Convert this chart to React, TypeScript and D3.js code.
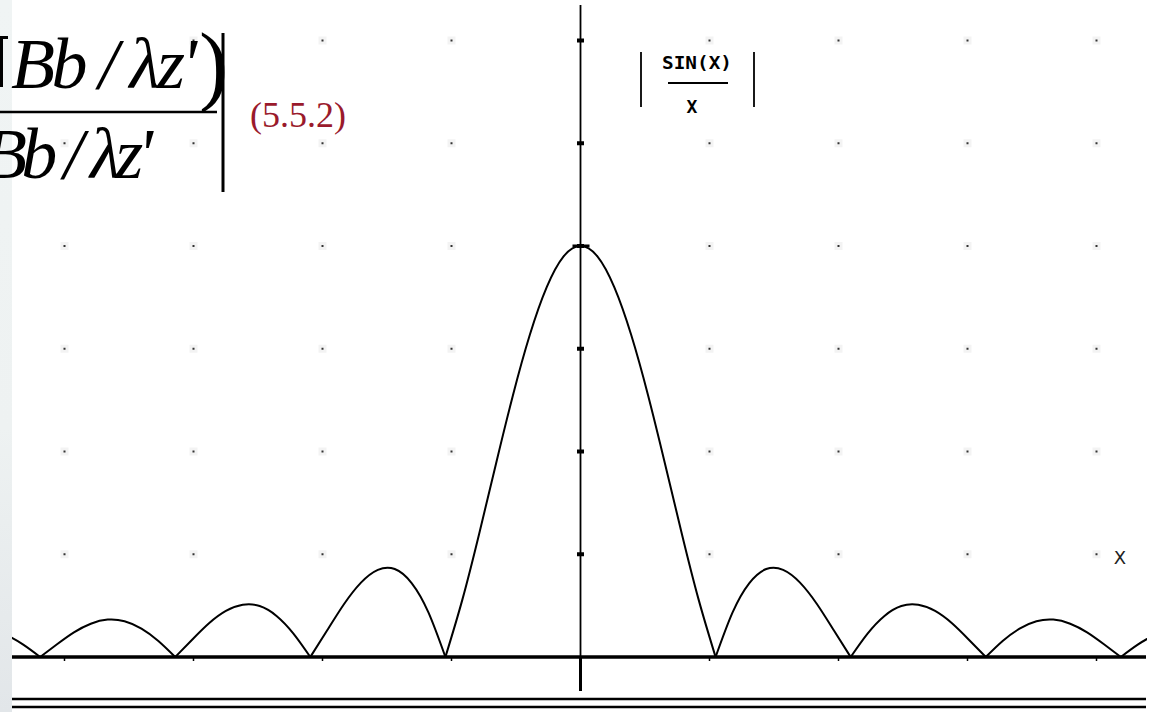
import React, { useRef, useEffect } from "react";
import * as d3 from "d3";

// samples of |sin(x)/x|, x in multiples of pi (right half, the picture is symmetric)
const X_PI = [
  0, 0.125, 0.25, 0.375, 0.5, 0.625, 0.75, 0.875, 1,
  1.125, 1.25, 1.375, 1.5, 1.625, 1.75, 1.875, 2,
  2.125, 2.25, 2.375, 2.5, 2.625, 2.75, 2.875, 3,
  3.125, 3.25, 3.375, 3.5, 3.625, 3.75, 3.875, 4,
  4.125, 4.25, 4.375,
];
const AMP = [
  1, 0.975, 0.9, 0.784, 0.637, 0.471, 0.3, 0.139, 0,
  0.108, 0.18, 0.214, 0.212, 0.181, 0.129, 0.065, 0,
  0.057, 0.1, 0.124, 0.127, 0.112, 0.082, 0.042, 0,
  0.039, 0.069, 0.087, 0.091, 0.081, 0.06, 0.031, 0,
  0.03, 0.053, 0.067,
];
// grid dots (x in radians, y in amplitude)
const GRID_X = [-12, -9, -6, -3, 3, 6, 9, 12];
const GRID_Y = [0.25, 0.5, 0.75, 1, 1.25, 1.5];
const AXIS_TICKS = [0.25, 0.5, 0.75, 1, 1.25, 1.5];

const W = 1159;
const H = 712;

const App = () => {
  const svgRef = useRef<SVGSVGElement>(null);

  useEffect(() => {
    const svg = d3.select(svgRef.current);
    svg.selectAll("*").remove();

    const x = d3.scaleLinear().domain([-13.5, 13.5]).range([0, 1161]);
    const y = d3.scaleLinear().domain([0, 1]).range([657, 246]);

    const defs = svg.append("defs");
    const grad = defs
      .append("linearGradient")
      .attr("id", "edge")
      .attr("x1", 0)
      .attr("x2", 0)
      .attr("y1", 0)
      .attr("y2", 1);
    grad.append("stop").attr("offset", "0%").attr("stop-color", "#f0f4f4");
    grad.append("stop").attr("offset", "60%").attr("stop-color", "#eef2f2");
    grad.append("stop").attr("offset", "100%").attr("stop-color", "#e2e6e9");
    defs
      .append("clipPath")
      .attr("id", "plotClip")
      .append("rect")
      .attr("x", 12)
      .attr("y", 0)
      .attr("width", 1135)
      .attr("height", H);

    svg.append("rect").attr("width", W).attr("height", H).attr("fill", "#fff");
    svg.append("rect").attr("width", 12).attr("height", H).attr("fill", "url(#edge)");

    // grid dots
    const dots = GRID_X.flatMap((gx) => GRID_Y.map((gy) => [gx, gy]));
    svg
      .append("g")
      .selectAll("rect.halo")
      .data(dots)
      .join("rect")
      .attr("x", (d) => x(d[0]) - 4)
      .attr("y", (d) => y(d[1]) - 4)
      .attr("width", 8)
      .attr("height", 8)
      .attr("fill", "#f3f3f3");
    svg
      .append("g")
      .selectAll("rect.dot")
      .data(dots)
      .join("rect")
      .attr("x", (d) => x(d[0]) - 1)
      .attr("y", (d) => y(d[1]) - 1)
      .attr("width", 2)
      .attr("height", 2)
      .attr("fill", "#333");

    // baseline and bottom double rule
    const x0 = 12;
    const x1 = 1146;
    svg.append("line").attr("x1", x0).attr("x2", x1).attr("y1", y(0)).attr("y2", y(0))
      .attr("stroke", "#000").attr("stroke-width", 3.5);
    [699, 707].forEach((yy) =>
      svg.append("line").attr("x1", x0).attr("x2", x1).attr("y1", yy).attr("y2", yy)
        .attr("stroke", "#000").attr("stroke-width", 2.5)
    );
    svg
      .append("g")
      .selectAll("line")
      .data(GRID_X)
      .join("line")
      .attr("x1", (d) => x(d))
      .attr("x2", (d) => x(d))
      .attr("y1", y(0))
      .attr("y2", y(0) + 4)
      .attr("stroke", "#000")
      .attr("stroke-width", 1.5);

    // vertical axis
    svg.append("line").attr("x1", x(0)).attr("x2", x(0)).attr("y1", 5).attr("y2", y(0))
      .attr("stroke", "#000").attr("stroke-width", 1.8);
    svg.append("line").attr("x1", x(0)).attr("x2", x(0)).attr("y1", y(0)).attr("y2", 691)
      .attr("stroke", "#000").attr("stroke-width", 3);
    svg
      .append("g")
      .selectAll("rect")
      .data(AXIS_TICKS)
      .join("rect")
      .attr("x", x(0) - 3.5)
      .attr("y", (d) => y(d) - 2)
      .attr("width", 7)
      .attr("height", 4)
      .attr("fill", "#000");

    // curve, drawn lobe by lobe so the zeros stay sharp
    const half = X_PI.map((t, i) => ({ t, v: AMP[i] }));
    const full = [
      ...half.slice(1).reverse().map((d) => ({ t: -d.t, v: d.v })),
      ...half,
    ];
    const lobes: { t: number; v: number }[][] = [];
    let cur: { t: number; v: number }[] = [];
    full.forEach((d) => {
      cur.push(d);
      if (d.v === 0) {
        lobes.push(cur);
        cur = [d];
      }
    });
    lobes.push(cur);
    const line = d3
      .line<{ t: number; v: number }>()
      .x((d) => x(d.t * Math.PI))
      .y((d) => y(d.v))
      .curve(d3.curveNatural);
    svg
      .append("g")
      .attr("clip-path", "url(#plotClip)")
      .selectAll("path")
      .data(lobes)
      .join("path")
      .attr("d", (d) => line(d))
      .attr("fill", "none")
      .attr("stroke", "#000")
      .attr("stroke-width", 2);
    svg.append("rect").attr("x", x(0) - 8).attr("y", y(1) - 1.5).attr("width", 17).attr("height", 3)
      .attr("fill", "#000");

    // legend |SIN(X)/X|
    const lg = svg.append("g").attr("font-family", "DejaVu Sans Mono").attr("font-weight", "bold");
    lg.append("text").attr("x", 662).attr("y", 69).attr("font-size", 18)
      .attr("textLength", 70).attr("lengthAdjust", "spacingAndGlyphs").text("SIN(X)");
    lg.append("line").attr("x1", 668).attr("x2", 728).attr("y1", 83).attr("y2", 83)
      .attr("stroke", "#000").attr("stroke-width", 2);
    lg.append("text").attr("x", 692).attr("y", 113).attr("font-size", 18)
      .attr("text-anchor", "middle").text("X");
    [641, 754].forEach((bx) =>
      lg.append("line").attr("x1", bx).attr("x2", bx).attr("y1", 52).attr("y2", 107)
        .attr("stroke", "#000").attr("stroke-width", 1.8)
    );

    svg.append("text").attr("x", 1120).attr("y", 564).attr("text-anchor", "middle")
      .attr("font-family", "DejaVu Sans").attr("font-size", 18).attr("fill", "#222").text("X");

    // formula fragment
    const f = svg.append("g").attr("font-family", "Liberation Serif").attr("font-style", "italic");
    f.append("rect").attr("x", 0).attr("y", 36).attr("width", 3).attr("height", 51).attr("fill", "#000");
    f.append("rect").attr("x", 0).attr("y", 36).attr("width", 8).attr("height", 3).attr("fill", "#000");
    f.append("text").attr("x", 11).attr("y", 88).attr("font-size", 72)
      .attr("textLength", 186).text("Bb / λz'");
    f.append("text").attr("x", 199).attr("y", 94).attr("font-size", 88).attr("font-style", "normal")
      .text(")");
    f.append("line").attr("x1", 0).attr("x2", 217).attr("y1", 112).attr("y2", 112)
      .attr("stroke", "#000").attr("stroke-width", 2.5);
    f.append("text").attr("x", -17).attr("y", 178).attr("font-size", 72)
      .attr("textLength", 170).text("Bb / λz'");
    f.append("line").attr("x1", 223).attr("x2", 223).attr("y1", 33).attr("y2", 192)
      .attr("stroke", "#000").attr("stroke-width", 3);
    svg.append("text").attr("x", 250).attr("y", 127).attr("font-family", "Liberation Serif")
      .attr("font-size", 36).attr("fill", "#9a1a2c").text("(5.5.2)");
  }, []);

  return (
    <svg
      ref={svgRef}
      width={W}
      height={H}
      style={{ position: "absolute", left: 0, top: 0, display: "block" }}
    />
  );
};

export default App;
